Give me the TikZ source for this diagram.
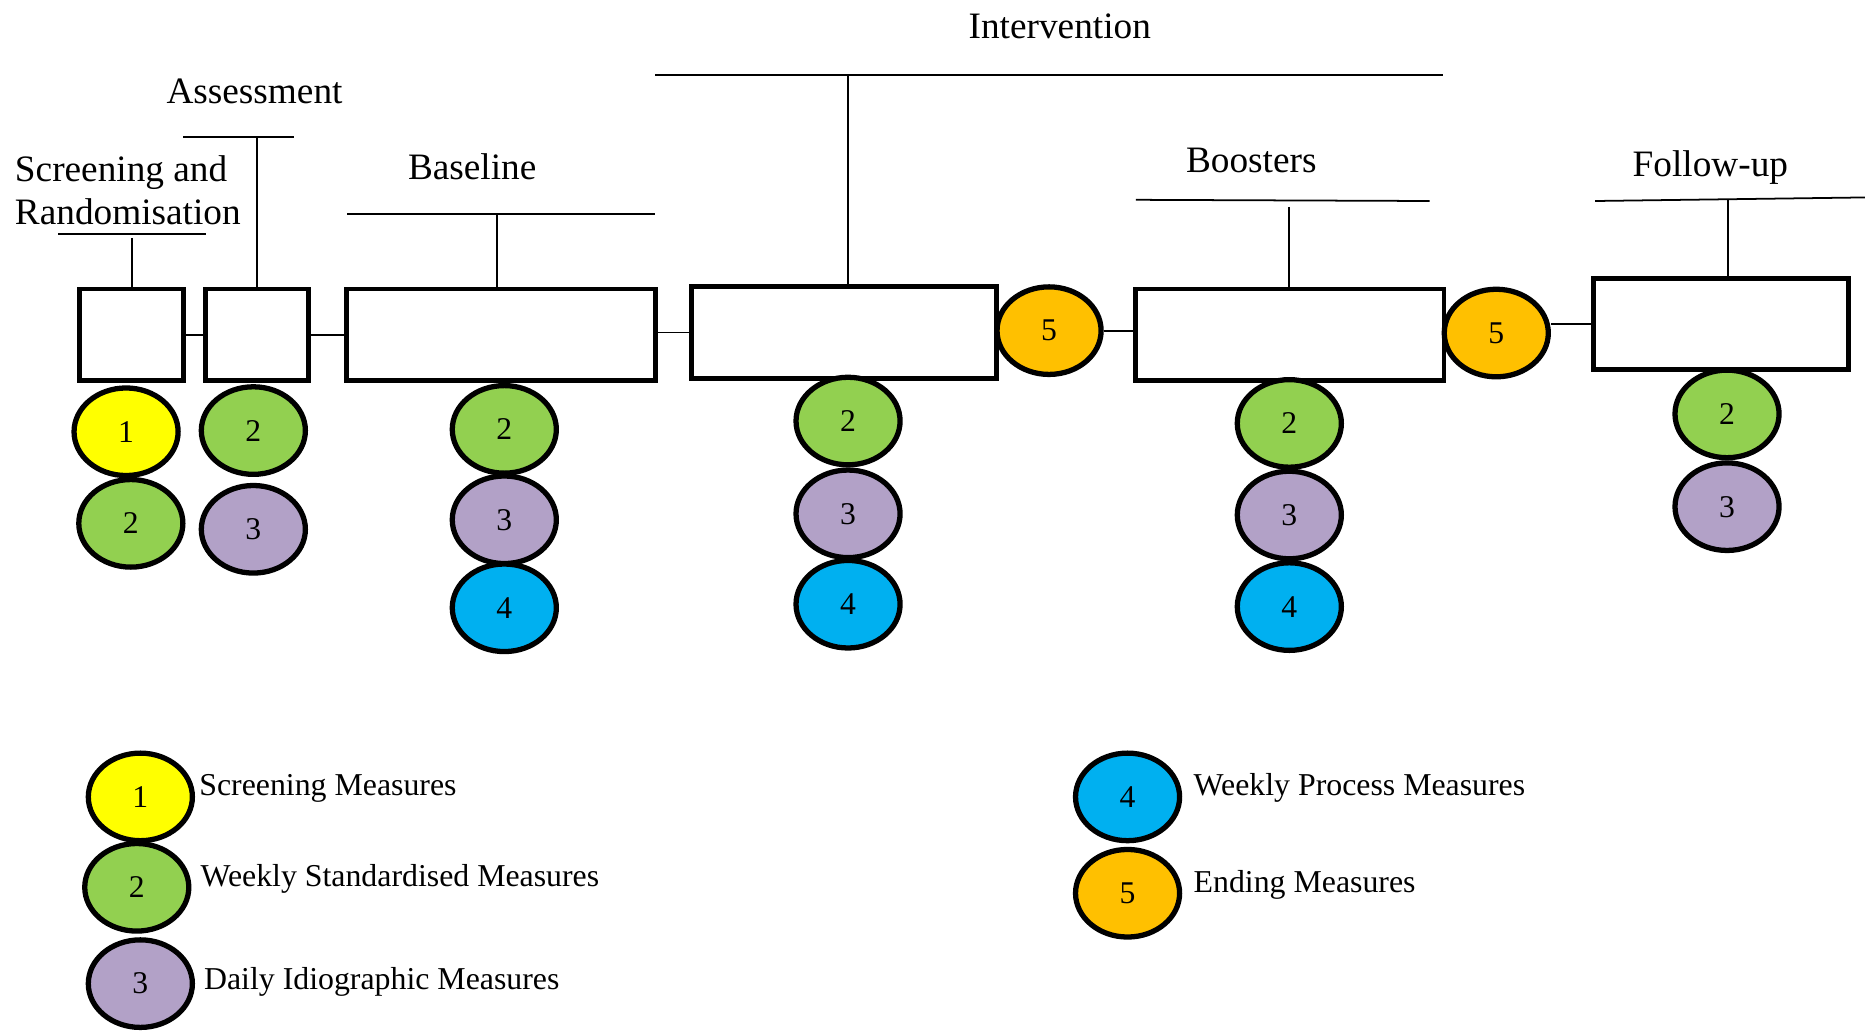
\documentclass[tikz,border=0pt]{standalone}
\usepackage{fontspec}
\setmainfont{Liberation Serif}
\usetikzlibrary{shapes.geometric,fit}
\definecolor{myyellow}{HTML}{FFFF00}
\definecolor{mygreen}{HTML}{92D050}
\definecolor{mypurple}{HTML}{B2A1C7}
\definecolor{myblue}{HTML}{00B0F0}
\definecolor{myorange}{HTML}{FFC000}
\begin{document}
\begin{tikzpicture}[x=0.011894cm,y=-0.011894cm,
  phase/.style={draw, rectangle, line width=1.4pt, inner sep=0pt},
  meas/.style={ellipse, draw, line width=1.5pt, minimum width=1.04cm, minimum height=0.875cm, inner sep=0pt, font=\fontsize{9}{10}\selectfont},
  mA/.style={meas, fill=myyellow},
  mB/.style={meas, fill=mygreen},
  mC/.style={meas, fill=mypurple},
  mD/.style={meas, fill=myblue},
  mE/.style={meas, fill=myorange},
  brk/.style={line width=0.5pt},
  link/.style={line width=0.5pt},
  head/.style={font=\fontsize{10.6}{12.2}\selectfont, inner sep=0pt, anchor=base},
  leg/.style={font=\fontsize{9.05}{10}\selectfont, inner sep=0pt, anchor=base west}]

\fill[white] (0,0) rectangle (1568,866);
\useasboundingbox (0,0) rectangle (1568,866);

% phase boxes
\node[phase, fit={(67,243) (154,320)}] (b1) {};
\node[phase, fit={(173,243) (259,320)}] (b2) {};
\node[phase, fit={(291,243) (551,320)}] (b3) {};
\node[phase, fit={(581,241) (838,318)}] (b4) {};
\node[phase, fit={(955,243) (1214,320)}] (b5) {};
\node[phase, fit={(1340,234) (1554,311)}] (b6) {};

% ending measures between phases
\node[mE] (e1) at (882,278) {5};
\node[mE] (e2) at (1258,280) {5};

% connectors
\draw[link] (b1.east) -- (b2.west);
\draw[link] (b2.east) -- (b3.west);
\draw[link] (b3.east |- b4.west) -- (b4.west);
\draw[link] (e1.east) -- (e1.east -| b5.west);
\draw[link] (e2.east |- b6.west) -- (b6.west);

% headings
\node[font=\fontsize{10.6}{12.2}\selectfont, inner sep=0pt, anchor=north west, align=left] (tscr) at (12,130) {Screening and\\Randomisation};
\node[head] (tass) at (214,87) {Assessment};
\node[head] (tbas) at (397,151) {Baseline};
\node[head] (tint) at (891,32) {Intervention};
\node[head] (tboo) at (1052,145) {Boosters};
\node[head] (tfol) at (1438,148) {Follow-up};

% bracket lines
\draw[brk] (49,197) -- (173,197);
\coordinate (v1) at (111,200);
\draw[brk] (v1) -- (v1 |- b1.north);
\draw[brk] (154,115) -- (247,115);
\coordinate (v2) at (216,115);
\draw[brk] (v2) -- (v2 |- b2.north);
\draw[brk] (292,180) -- (551,180);
\coordinate (v3) at (418,180);
\draw[brk] (v3) -- (v3 |- b3.north);
\draw[brk] (551,63) -- (1213,63);
\coordinate (v4) at (713,63);
\draw[brk] (v4) -- (v4 |- b4.north);
\draw[brk] (955,168) -- (1202,169);
\coordinate (v5) at (1084,174);
\draw[brk] (v5) -- (v5 |- b5.north);
\draw[brk] (1341,169) -- (1568,166);
\coordinate (v6) at (1453,168);
\draw[brk] (v6) -- (v6 |- b6.north);

% measures under phases
\node[mA] (s1) at (106,363) {1};
\node[mB] (s2) at (110,440) {2};
\node[mB] (a2) at (213,362) {2};
\node[mC] (a3) at (213,445) {3};
\node[mB] (ba2) at (424,361) {2};
\node[mC] (ba3) at (424,437) {3};
\node[mD] (ba4) at (424,511) {4};
\node[mB] (i2) at (713,354) {2};
\node[mC] (i3) at (713,432) {3};
\node[mD] (i4) at (713,508) {4};
\node[mB] (bo2) at (1084,356) {2};
\node[mC] (bo3) at (1084,433) {3};
\node[mD] (bo4) at (1084,510) {4};
\node[mB] (f2) at (1452,348) {2};
\node[mC] (f3) at (1452,426) {3};

% legend
\node[mA] (l1) at (118,670) {1};
\node[mB] (l2) at (115,746) {2};
\node[mC] (l3) at (118,827) {3};
\node[mD] (l4) at (948,670) {4};
\node[mE] (l5) at (948,751) {5};
\node[leg] (l1t) at (167,669) {Screening Measures};
\node[leg] (l2t) at (168,745) {Weekly Standardised Measures};
\node[leg] (l3t) at (171,832) {Daily Idiographic Measures};
\node[leg] (l4t) at (1003,669) {Weekly Process Measures};
\node[leg] (l5t) at (1003,750) {Ending Measures};
\end{tikzpicture}
\end{document}
